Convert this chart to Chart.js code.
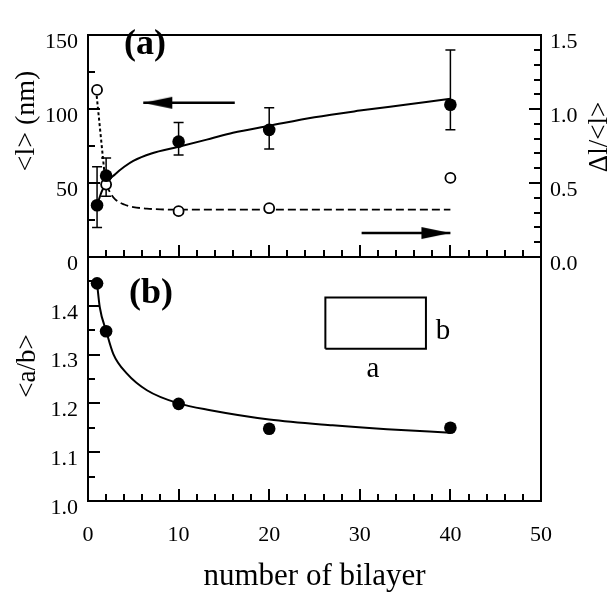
<!DOCTYPE html>
<html>
<head>
<meta charset="utf-8">
<script src="https://cdn.jsdelivr.net/npm/chart.js@4.4.1/dist/chart.umd.min.js"></script>
<style>
  body { margin: 0; background: #fff; }
  #wrap { position: relative; width: 613px; height: 593px; }
  #wrap canvas { position: absolute; left: 0; top: 0; }
</style>
</head>
<body>
<div id="wrap">
  <canvas id="panelA" width="613" height="593"></canvas>
  <canvas id="panelB" width="613" height="593"></canvas>
</div>
<script>
const bilayers = [1, 2, 10, 20, 40];
const meanLength = [35, 55, 78, 86, 103];      // <l> (nm)
const lengthLow = [20, 41, 69, 73, 86];        // error bar ends
const lengthHigh = [61, 67, 91, 101, 140];
const lengthSpread = [1.13, 0.49, 0.31, 0.33, 0.535]; // Δl/<l>
const aspectRatio = [1.446, 1.348, 1.199, 1.148, 1.15]; // <a/b>

// guide curves
const lengthFitX = [1, 1.5, 2, 3, 4, 5, 7, 10, 13.5, 16, 20, 25, 30, 35, 40];
const lengthFitY = [35, 44, 50, 56, 61, 65, 70, 74.5, 80, 84, 88.7, 94.5, 99, 103, 107];
const spreadDropX = [0.96, 1.88];
const spreadDropY = [1.09, 0.53];
const spreadFitX = [2, 2.5, 3, 4, 5, 6.5, 8, 10, 40];
const spreadFitY = [0.49, 0.43, 0.39, 0.355, 0.338, 0.327, 0.322, 0.32, 0.32];
const aspectFitX = [1, 1.3, 2, 2.8, 4.3, 6.5, 10, 13.5, 20, 27, 33, 40];
const aspectFitY = [1.446, 1.397, 1.349, 1.301, 1.261, 1.227, 1.2, 1.186, 1.167, 1.155, 1.147, 1.14];

// arrows pointing to the axis each series belongs to
const leftArrowX = [16.2, 6.1], leftArrowY = [104.3, 104.3];
const rightArrowX = [30.2, 40.0], rightArrowY = [0.162, 0.162];

// inset sketch of a rectangle a x b
const boxX = [26.2, 37.3, 37.3, 26.2, 26.2];
const boxY = [1.312, 1.312, 1.417, 1.417, 1.312];

const SERIF = "'Liberation Serif', 'Times New Roman', serif";
Chart.defaults.font.family = SERIF;
Chart.defaults.color = "#000";

const pts = (xs, ys) => xs.map((x, i) => ({ x: x, y: ys[i] }));

function arrowHead(dir) {
  // tip sits on the centre of the image, so it lands on the data point
  const c = document.createElement("canvas");
  c.width = 60;
  c.height = 14;
  const g = c.getContext("2d");
  g.fillStyle = "#000";
  g.beginPath();
  g.moveTo(30, 7);
  if (dir < 0) {
    g.lineTo(59, 1);
    g.lineTo(59, 13);
  } else {
    g.lineTo(1, 1);
    g.lineTo(1, 13);
  }
  g.closePath();
  g.fill();
  return c;
}

// tick helpers (ticks point into the frame)
function tickAxis(pos, min, max, step, len, size, weight, extra) {
  const horiz = pos === "top" || pos === "bottom";
  const ax = {
    type: "linear",
    position: pos,
    min: min,
    max: max,
    weight: weight,
    ticks: { display: false, stepSize: step },
    grid: { drawOnChartArea: false, tickLength: -len, lineWidth: 2, color: "#000" },
    border: { display: weight > 0, color: "#000", width: 2 },
    afterFit: (s) => {
      if (horiz) s.height = size;
      else s.width = size;
    },
  };
  return Object.assign(ax, extra || {});
}
function frameAxis(pos, min, max, size) {
  const horiz = pos === "top" || pos === "bottom";
  return {
    type: "linear",
    position: pos,
    min: min,
    max: max,
    ticks: { display: false },
    grid: { display: false },
    border: { display: true, color: "#000", width: 2 },
    afterFit: (s) => {
      if (horiz) s.height = size;
      else s.width = size;
    },
  };
}

const tickFont = { family: SERIF, size: 22 };

const notes = {
  id: "notes",
  afterDraw(chart, args, opts) {
    const ctx = chart.ctx;
    (opts.items || []).forEach((t) => {
      ctx.save();
      ctx.translate(t.x, t.y);
      if (t.rot) ctx.rotate(t.rot);
      ctx.font = t.font;
      ctx.fillStyle = "#000";
      ctx.textAlign = "center";
      ctx.textBaseline = "middle";
      ctx.fillText(t.text, 0, 0);
      ctx.restore();
    });
  },
};

const errorStems = bilayers.flatMap((x, i) => [
  { x: x, y: lengthLow[i] },
  { x: x, y: lengthHigh[i] },
  { x: x, y: null },
]);
const errorCaps = bilayers.flatMap((x, i) => [
  { x: x, y: lengthLow[i] },
  { x: x, y: lengthHigh[i] },
]);

// ---- panel (a)
new Chart(document.getElementById("panelA"), {
  type: "line",
  data: {
    datasets: [
      { data: pts(bilayers, meanLength), yAxisID: "y", showLine: false,
        pointRadius: 6.3, pointBackgroundColor: "#000", pointBorderColor: "#000", pointBorderWidth: 0 },
      { data: pts(bilayers, lengthSpread), yAxisID: "y2", showLine: false,
        pointRadius: 5, pointBackgroundColor: "#fff", pointBorderColor: "#000", pointBorderWidth: 1.8 },
      { data: errorCaps, yAxisID: "y", showLine: false, pointStyle: "line",
        pointRadius: 5, pointBorderColor: "#000", pointBorderWidth: 1.5 },
      { data: errorStems, yAxisID: "y", spanGaps: false, borderColor: "#000", borderWidth: 1.5, pointRadius: 0 },
      { data: pts(lengthFitX, lengthFitY), yAxisID: "y", borderColor: "#000", borderWidth: 2,
        pointRadius: 0, cubicInterpolationMode: "monotone" },
      { data: pts(spreadDropX, spreadDropY), yAxisID: "y2", borderColor: "#000", borderWidth: 2,
        borderDash: [3, 2.5], pointRadius: 0 },
      { data: pts(spreadFitX, spreadFitY), yAxisID: "y2", borderColor: "#000", borderWidth: 1.8,
        borderDash: [8, 4], pointRadius: 0, cubicInterpolationMode: "monotone" },
      { data: pts(leftArrowX, leftArrowY), yAxisID: "y", borderColor: "#000", borderWidth: 2.5,
        pointRadius: [0, 6], pointStyle: ["circle", arrowHead(-1)] },
      { data: pts(rightArrowX, rightArrowY), yAxisID: "y2", borderColor: "#000", borderWidth: 2.5,
        pointRadius: [0, 6], pointStyle: ["circle", arrowHead(1)] },
    ],
  },
  options: {
    responsive: false,
    animation: false,
    events: [],
    layout: { padding: { top: 13, bottom: 336, left: 0, right: 0 } },
    plugins: {
      legend: { display: false },
      tooltip: { enabled: false },
      notes: {
        items: [
          { text: "(a)", x: 145, y: 45, font: "bold 36px " + SERIF },
          { text: "<l> (nm)", x: 27, y: 121, rot: -Math.PI / 2, font: "28px " + SERIF },
          { text: "\u0394l/<l>", x: 600, y: 137, rot: -Math.PI / 2, font: "27px " + SERIF },
        ],
      },
    },
    scales: {
      x: tickAxis("bottom", 0, 50, 10, 12, 0, 1),
      xMinor: tickAxis("bottom", 0, 50, 2, 7, 0, 0),
      xTop: frameAxis("top", 0, 50, 0),
      y: tickAxis("left", 0, 150, 50, 12, 88, 1, {
        ticks: { display: true, stepSize: 50, padding: 22, labelOffset: 7, font: tickFont },
      }),
      yMinor: tickAxis("left", 0, 150, 25, 7, 0, 0),
      y2: tickAxis("right", 0, 1.5, 0.5, 12, 72, 1, {
        ticks: { display: true, stepSize: 0.5, padding: 21, labelOffset: 7, font: tickFont,
          callback: (v) => v.toFixed(1) },
      }),
      y2Minor: tickAxis("right", 0, 1.5, 0.1, 7, 0, 0),
    },
  },
  plugins: [notes],
});

// ---- panel (b)
new Chart(document.getElementById("panelB"), {
  type: "line",
  data: {
    datasets: [
      { data: pts(bilayers, aspectRatio), showLine: false,
        pointRadius: 6.3, pointBackgroundColor: "#000", pointBorderColor: "#000", pointBorderWidth: 0 },
      { data: pts(aspectFitX, aspectFitY), borderColor: "#000", borderWidth: 2,
        pointRadius: 0, cubicInterpolationMode: "monotone" },
      { data: pts(boxX, boxY), borderColor: "#000", borderWidth: 2, pointRadius: 0,
        borderJoinStyle: "miter", tension: 0 },
    ],
  },
  options: {
    responsive: false,
    animation: false,
    events: [],
    layout: { padding: { top: 257, bottom: 0, left: 0, right: 0 } },
    plugins: {
      legend: { display: false },
      tooltip: { enabled: false },
      notes: {
        items: [
          { text: "(b)", x: 151, y: 294, font: "bold 36px " + SERIF },
          { text: "<a/b>", x: 28, y: 366, rot: -Math.PI / 2, font: "27px " + SERIF },
          { text: "b", x: 443, y: 331, font: "29px " + SERIF },
          { text: "a", x: 373, y: 369, font: "29px " + SERIF },
        ],
      },
    },
    scales: {
      x: tickAxis("bottom", 0, 50, 10, 12, 92, 1, {
        ticks: { display: true, stepSize: 10, padding: 33, font: tickFont },
        title: { display: true, text: "number of bilayer", font: { family: SERIF, size: 31 },
          padding: { top: 0, bottom: -2 } },
      }),
      xMinor: tickAxis("bottom", 0, 50, 2, 7, 0, 0),
      xTop: frameAxis("top", 0, 50, 0),
      y: tickAxis("left", 1, 1.5, 0.1, 12, 88, 1, {
        ticks: { display: true, stepSize: 0.1, padding: 22, labelOffset: 7, font: tickFont,
          callback: (v) => (v > 1.45 ? "" : v.toFixed(1)) },
      }),
      yMinor: tickAxis("left", 1, 1.5, 0.05, 7, 0, 0),
      yRight: frameAxis("right", 1, 1.5, 72),
    },
  },
  plugins: [notes],
});
</script>
</body>
</html>
